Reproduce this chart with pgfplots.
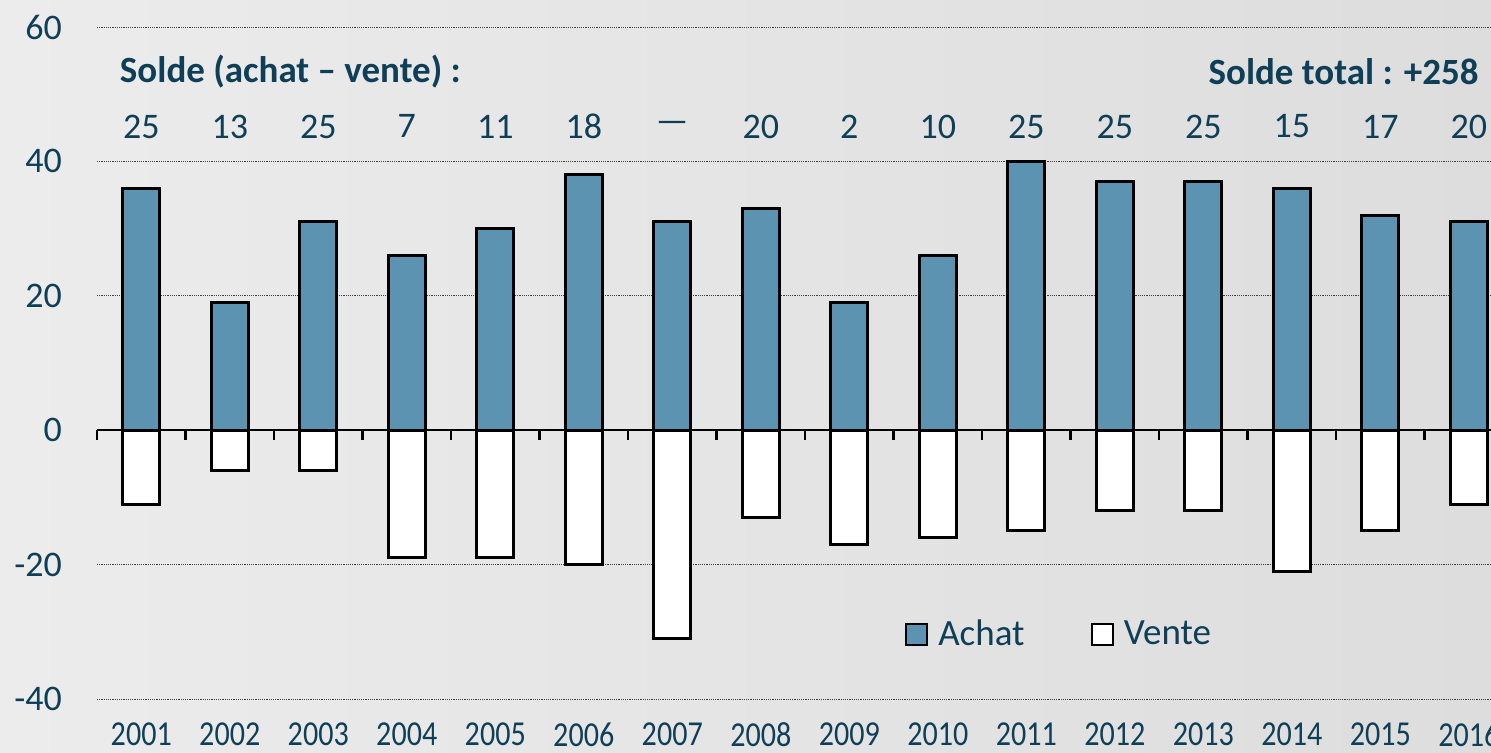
\documentclass[border=0pt]{standalone}
\usepackage{pgfplots}
\pgfplotsset{compat=1.18}
\usepackage{fontspec}
\setmainfont{Carlito}
\newfontfamily\narrowfont{Carlito}[FakeStretch=0.86]
\definecolor{txt}{RGB}{14,63,87}
\definecolor{achat}{RGB}{91,147,176}
\definecolor{bgA}{RGB}{236,236,236}
\definecolor{bgB}{RGB}{221,221,221}
\begin{document}
\begin{tikzpicture}
\useasboundingbox (0,0) rectangle (745.5pt,376.5pt);
\clip (0,0) rectangle (745.5pt,376.5pt);
\shade[left color=bgA, right color=bgB] (0,0) rectangle (745.5pt,376.5pt);
\begin{axis}[
  at={(48.5pt,27pt)}, anchor=south west,
  scale only axis, width=708pt, height=336pt,
  xmin=0.5, xmax=16.5, ymin=-40, ymax=60,
  axis line style={draw=none},
  xtick={1,...,16},
  xticklabels={2001,2002,2003,2004,2005,2006,2007,2008,2009,2010,2011,2012,2013,2014,2015,2016},
  ytick={-40,-20,0,20,40,60},
  xtick style={draw=none}, ytick style={draw=none},
  ymajorgrids,
  grid style={line width=0.4pt, black!75, dash pattern=on 0.6pt off 0.5pt},
  /pgf/number format/assume math mode=true,
  xticklabel style={font=\narrowfont\fontsize{17.5}{21}\selectfont, text=txt, yshift=-8.3pt},
  yticklabel style={font=\fontsize{18}{21}\selectfont, text=txt, anchor=east, xshift=-14pt},
  legend columns=2,
  legend style={draw=none, fill=none, at={(rel axis cs:0.566,0.096)}, anchor=west,
    font=\fontsize{18.5}{21}\selectfont, text=txt,
    /tikz/every odd column/.append style={column sep=3pt},
    /tikz/every even column/.append style={column sep=31pt}},
  legend image code/.code={\draw[#1, line width=1.2pt] (0pt,-5.3pt) rectangle (10.5pt,5.3pt);},
  clip=false,
]
\addplot[ybar, bar width=18.5pt, bar shift=0pt, fill=achat, draw=black, line width=1.5pt] coordinates {
(1,36) (2,19) (3,31) (4,26) (5,30) (6,38) (7,31) (8,33) (9,19) (10,26) (11,40) (12,37) (13,37) (14,36) (15,32) (16,31)};
\addlegendentry{Achat}
\addplot[ybar, bar width=18.5pt, bar shift=0pt, fill=white, draw=black, line width=1.5pt] coordinates {
(1,-11) (2,-6) (3,-6) (4,-19) (5,-19) (6,-20) (7,-31) (8,-13) (9,-17) (10,-16) (11,-15) (12,-12) (13,-12) (14,-21) (15,-15) (16,-11)};
\addlegendentry{Vente}
\addplot[only marks, mark=none, nodes near coords, point meta=explicit symbolic,
  nodes near coords style={anchor=center, text=txt, font=\fontsize{18}{21}\selectfont}, forget plot]
  table[meta=lab] {
x y lab
1 45.2 25
2 45.2 13
3 45.2 25
4 45.2 7
5 45.2 11
6 45.2 18
7 45.2 —
8 45.2 20
9 45.2 2
10 45.2 10
11 45.2 25
12 45.2 25
13 45.2 25
14 45.2 15
15 45.2 17
16 45.2 20
};
\draw[black, line width=1pt] (axis cs:0.5,0) -- (axis cs:16.5,0);
\pgfplotsinvokeforeach{0,...,16}{
  \draw[black, line width=1.1pt] (axis cs:{0.5+#1},0) -- ([yshift=-5pt]axis cs:{0.5+#1},0);
}
\node[anchor=west, text=txt, font=\bfseries\fontsize{18.5}{21}\selectfont] at (axis cs:0.68,53.3) {Solde (achat – vente) :};
\node[anchor=east, text=txt, font=\bfseries\fontsize{18.5}{21}\selectfont] at (axis cs:16.19,53.3) {Solde total : +258};
\end{axis}
\end{tikzpicture}
\end{document}
